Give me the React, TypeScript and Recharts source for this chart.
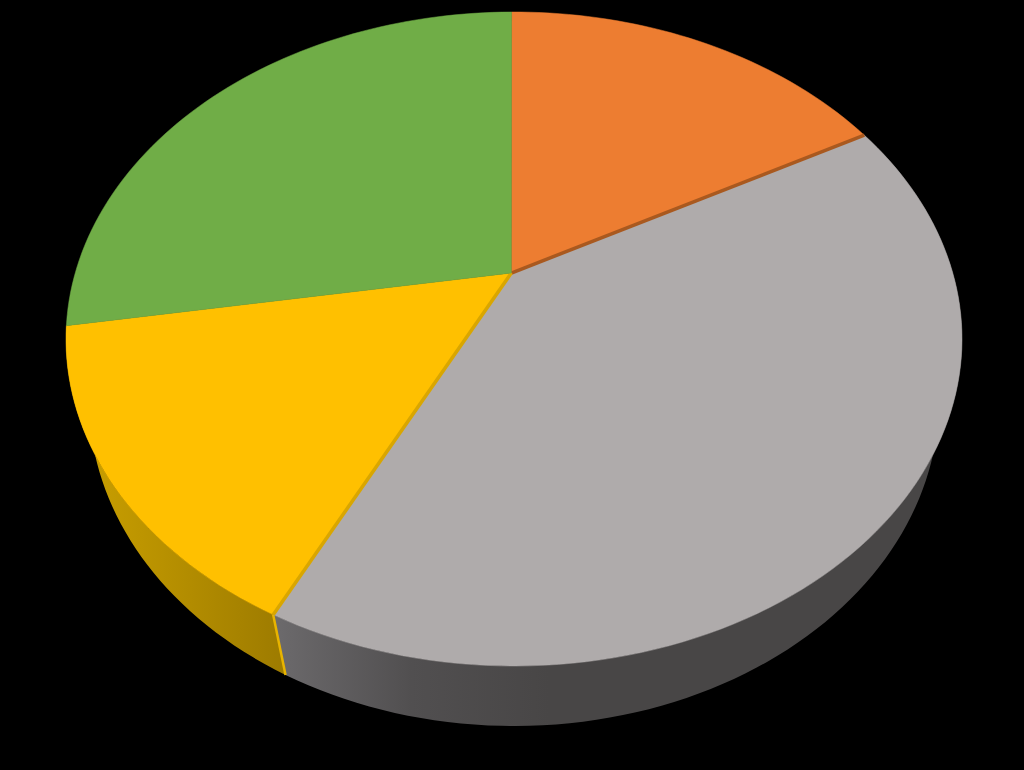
import React from "react";
import { PieChart, Pie } from "recharts";

const categories = ["Orange", "Gray", "Yellow", "Green"];
const values = [17.05, 40.3, 15.05, 27.6];
const topColors = ["#ED7D31", "#AFABAB", "#FFC000", "#70AD47"];
const seamColors = ["", "#A9591F", "#D9A600", ""];
const wallSeamColors = ["", "", "#E8B400", ""];
const wallGradients = ["", "wallGray", "wallYellow", ""];

const rows = categories.map((name, i) => ({ name, value: values[i], i }));

const W = 1024;
const H = 770;
const CX = 514;
const CY = 339;
const RY = 327;
const RX = 448;
const ASPECT = RX / RY;
const APEX = [-0.006, -0.2018];
const WALL_CY = 400;
const WALL_RX = 425;
const WALL_RY = 326;

function project(cx: number, cy: number, r: number, deg: number) {
  const t = (deg * Math.PI) / 180;
  const px = Math.cos(t);
  const py = -Math.sin(t);
  const [ax, ay] = APEX;
  const a2 = ax * ax + ay * ay;
  const dot = px * ax + py * ay;
  const k = Math.sqrt(1 - a2);
  const parX = (dot * ax) / a2;
  const parY = (dot * ay) / a2;
  const x = (parX + ax + k * (px - parX)) / (1 + dot);
  const y = (parY + ay + k * (py - parY)) / (1 + dot);
  return [cx + x * r * ASPECT, cy + y * r];
}

function rim(cx: number, cy: number, r: number, a: number, b: number) {
  const n = Math.max(2, Math.ceil(Math.abs(b - a) / 1.5));
  const out: number[][] = [];
  for (let i = 0; i <= n; i++) out.push(project(cx, cy, r, a + ((b - a) * i) / n));
  return out;
}

const lower = (p: number[]) => [
  CX + ((p[0] - CX) * WALL_RX) / RX,
  WALL_CY + ((p[1] - CY) * WALL_RY) / RY,
];
const toPath = (pts: number[][]) => "M" + pts.map((p) => `${p[0].toFixed(2)} ${p[1].toFixed(2)}`).join("L") + "Z";

function TopFace(props: any) {
  const { cx, cy, outerRadius, startAngle, endAngle, payload } = props;
  const i = payload?.i ?? props.i;
  const apex = [cx + APEX[0] * outerRadius * ASPECT, cy + APEX[1] * outerRadius];
  const edge = project(cx, cy, outerRadius, startAngle);
  return (
    <g>
      <path d={toPath([apex, ...rim(cx, cy, outerRadius, startAngle, endAngle)])} fill={topColors[i]} stroke={topColors[i]} strokeWidth={0.5} />
      {seamColors[i] ? (
        <line x1={apex[0]} y1={apex[1]} x2={edge[0]} y2={edge[1]} stroke={seamColors[i]} strokeWidth={3.5} />
      ) : null}
    </g>
  );
}

function WallFace(props: any) {
  const { cx, cy, outerRadius, startAngle, endAngle, payload } = props;
  const i = payload?.i ?? props.i;
  if (!wallGradients[i]) return <g />;
  const top = rim(cx, cy, outerRadius, startAngle, endAngle);
  const bottom = top.map(lower).reverse();
  const e = project(cx, cy, outerRadius, startAngle);
  const e2 = lower(e);
  return (
    <g>
      <path d={toPath([...top, ...bottom])} fill={`url(#${wallGradients[i]})`} />
      {wallSeamColors[i] ? (
        <line x1={e[0]} y1={e[1]} x2={e2[0]} y2={e2[1]} stroke={wallSeamColors[i]} strokeWidth={2.5} />
      ) : null}
    </g>
  );
}

export default function App() {
  React.useLayoutEffect(() => {
    document.body.style.margin = "0";
    document.body.style.background = "#000";
  }, []);
  return (
    <div style={{ position: "fixed", left: 0, top: 0, width: W, height: H, background: "#000" }}>
      <PieChart width={W} height={H} margin={{ top: 0, right: 0, bottom: 0, left: 0 }}>
        <defs>
          <linearGradient id="wallGray" gradientUnits="userSpaceOnUse" x1="275" y1="0" x2="960" y2="0">
            <stop offset="0" stopColor="#6C6A6C" />
            <stop offset="0.2" stopColor="#514F50" />
            <stop offset="0.4" stopColor="#484646" />
            <stop offset="1" stopColor="#484646" />
          </linearGradient>
          <linearGradient id="wallYellow" gradientUnits="userSpaceOnUse" x1="90" y1="0" x2="290" y2="0">
            <stop offset="0" stopColor="#C89E00" />
            <stop offset="1" stopColor="#9C7A00" />
          </linearGradient>
        </defs>
        <Pie data={rows} dataKey="value" cx={CX} cy={CY} outerRadius={RY} startAngle={90} endAngle={-270} stroke="none" isAnimationActive={false} shape={WallFace} />
        <Pie data={rows} dataKey="value" cx={CX} cy={CY} outerRadius={RY} startAngle={90} endAngle={-270} stroke="none" isAnimationActive={false} shape={TopFace} />
      </PieChart>
    </div>
  );
}
